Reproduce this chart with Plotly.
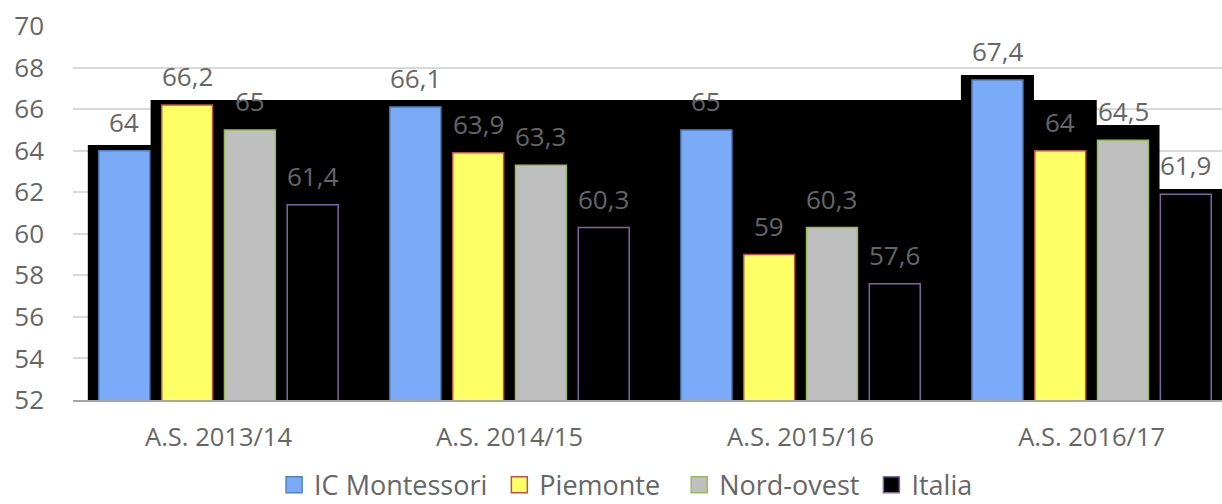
import plotly.graph_objects as go

categories = ["A.S. 2013/14", "A.S. 2014/15", "A.S. 2015/16", "A.S. 2016/17"]
series_names = ["IC Montessori", "Piemonte", "Nord-ovest", "Italia"]
ic_montessori = [64, 66.1, 65, 67.4]
piemonte = [66.2, 63.9, 59, 64]
nord_ovest = [65, 63.3, 60.3, 64.5]
italia = [61.4, 60.3, 57.6, 61.9]
# top of the black shadow drawn behind each bar (per group, per series)
shadow_tops = [
    [64.27, 66.44, 66.44, 66.44],
    [66.44, 66.44, 66.44, 66.44],
    [66.44, 66.44, 66.44, 66.44],
    [67.64, 66.44, 65.23, 62.15],
]
bridge_tops = [66.44, 66.44, 66.44]
y_ticks = [52, 54, 56, 58, 60, 62, 64, 66, 68, 70]

values = [ic_montessori, piemonte, nord_ovest, italia]
fills = ["#7aaaf8", "#ffff66", "#bfbfbf", "#000000"]
borders = ["#4f81bd", "#c0504d", "#9bbb59", "#8064a2"]
legend_pad = [" ", "  ", " ", ""]

FONT = "Open Sans"
TXT = "#666666"
bargap = 0.137
bargroupgap = 0.189
n = len(series_names)
slot = (1 - bargap) / n
bw = slot * (1 - bargroupgap)
ext = 0.038
overlap = 0.01

fig = go.Figure()
for i in range(n):
    fig.add_trace(go.Bar(
        x=categories, y=values[i], name=series_names[i],
        marker=dict(color=fills[i], line=dict(color=borders[i], width=1.5)),
        showlegend=False, hoverinfo="x+y+name",
    ))
    fig.add_trace(go.Scatter(
        x=[None], y=[None], mode="markers", name=series_names[i] + legend_pad[i],
        marker=dict(symbol="square", size=16, color=fills[i],
                    line=dict(color=borders[i], width=1.5)),
        showlegend=True,
    ))

shapes = []
annotations = []
for g in range(len(categories)):
    for j in range(n):
        c = g + (j - (n - 1) / 2) * slot
        shapes.append(dict(type="rect", xref="x", yref="y",
                           x0=c - bw / 2 - ext, x1=c + bw / 2 + ext,
                           y0=y_ticks[0], y1=shadow_tops[g][j],
                           fillcolor="black", line=dict(width=0), layer="between"))
        v = values[j][g]
        annotations.append(dict(x=c, y=v, xref="x", yref="y",
                                text=str(v).replace(".", ","), showarrow=False,
                                yanchor="bottom", yshift=9,
                                font=dict(family=FONT, size=26, color=TXT)))
for g in range(len(categories) - 1):
    x0 = g + ((n - 1) / 2) * slot + bw / 2 + ext - overlap
    x1 = g + 1 - ((n - 1) / 2) * slot - bw / 2 - ext + overlap
    shapes.append(dict(type="rect", xref="x", yref="y", x0=x0, x1=x1,
                       y0=y_ticks[0], y1=bridge_tops[g],
                       fillcolor="black", line=dict(width=0), layer="between"))

fig.update_layout(
    width=1222, height=504,
    margin=dict(l=73, r=0, t=26, b=104, autoexpand=False),
    paper_bgcolor="white", plot_bgcolor="white",
    barmode="group", bargap=bargap, bargroupgap=bargroupgap,
    font=dict(family=FONT, color=TXT),
    shapes=shapes, annotations=annotations,
    legend=dict(orientation="h", yref="paper", y=-0.228, yanchor="middle",
                x=0.175, xanchor="left", font=dict(family=FONT, size=27, color=TXT),
                bgcolor="rgba(0,0,0,0)"),
    xaxis=dict(type="category", categoryorder="array", categoryarray=categories,
               range=[-0.5, 3.448], showgrid=False, showline=True,
               linecolor="#a6a6a6", linewidth=1.5, ticks="",
               ticklabelstandoff=14,
               tickfont=dict(family=FONT, size=25.5, color=TXT)),
    yaxis=dict(range=[52, 70], tickvals=y_ticks, showgrid=True,
               gridcolor="#d9d9d9", gridwidth=1.5, zeroline=False, ticks="",
               ticklabelstandoff=28,
               tickfont=dict(family=FONT, size=26, color=TXT)),
)

fig.write_html("out.html", config={"displayModeBar": False},
               post_script="document.body.style.margin='0';document.body.style.overflow='hidden';")
